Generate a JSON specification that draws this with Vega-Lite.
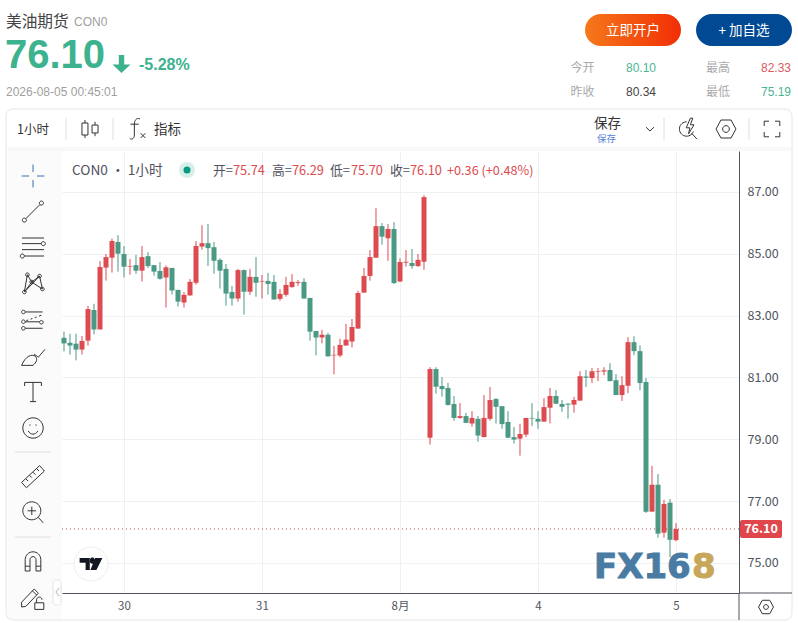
{
  "$schema": "https://vega.github.io/schema/vega-lite/v6.json",
  "width": 677,
  "height": 442,
  "autosize": "none",
  "padding": {"left": 62, "top": 151, "right": 59, "bottom": 30},
  "background": "#ffffff",
  "config": {
    "view": {"stroke": null},
    "text": {"font": "Noto Sans CJK SC", "baseline": "middle", "align": "left", "fontSize": 12, "color": "#333333"},
    "point": {"filled": false, "stroke": "#333333", "strokeWidth": 1, "opacity": 1, "size": 576},
    "rule": {"stroke": "#e0e0e0"}
  },
  "datasets": {
    "one": [{"a": 1}],
    "bars": [
      {"i": 0, "open": 82.28, "high": 82.48, "low": 81.84, "close": 82.10},
      {"i": 1, "open": 82.12, "high": 82.41, "low": 81.74, "close": 82.03},
      {"i": 2, "open": 82.09, "high": 82.41, "low": 81.55, "close": 81.90},
      {"i": 3, "open": 81.90, "high": 82.34, "low": 81.74, "close": 82.18},
      {"i": 4, "open": 82.19, "high": 83.31, "low": 82.03, "close": 83.21},
      {"i": 5, "open": 83.18, "high": 83.38, "low": 82.39, "close": 82.55},
      {"i": 6, "open": 82.55, "high": 84.76, "low": 82.55, "close": 84.57},
      {"i": 7, "open": 84.55, "high": 84.99, "low": 84.13, "close": 84.89},
      {"i": 8, "open": 84.87, "high": 85.49, "low": 84.39, "close": 85.41},
      {"i": 9, "open": 85.38, "high": 85.60, "low": 84.42, "close": 85.00},
      {"i": 10, "open": 84.99, "high": 85.25, "low": 84.23, "close": 84.58},
      {"i": 11, "open": 84.58, "high": 84.83, "low": 84.32, "close": 84.60},
      {"i": 12, "open": 84.63, "high": 84.96, "low": 84.35, "close": 84.45},
      {"i": 13, "open": 84.45, "high": 85.25, "low": 84.10, "close": 84.89},
      {"i": 14, "open": 84.92, "high": 85.05, "low": 84.54, "close": 84.60},
      {"i": 15, "open": 84.63, "high": 84.63, "low": 84.29, "close": 84.42},
      {"i": 16, "open": 84.44, "high": 84.73, "low": 84.16, "close": 84.19},
      {"i": 17, "open": 84.23, "high": 84.62, "low": 83.26, "close": 84.56},
      {"i": 18, "open": 84.54, "high": 84.54, "low": 83.68, "close": 83.81},
      {"i": 19, "open": 83.83, "high": 83.83, "low": 83.29, "close": 83.45},
      {"i": 20, "open": 83.42, "high": 83.76, "low": 83.26, "close": 83.67},
      {"i": 21, "open": 83.65, "high": 84.18, "low": 83.65, "close": 84.09},
      {"i": 22, "open": 84.06, "high": 85.41, "low": 84.00, "close": 85.25},
      {"i": 23, "open": 85.23, "high": 85.92, "low": 85.13, "close": 85.34},
      {"i": 24, "open": 85.34, "high": 85.96, "low": 84.60, "close": 85.18},
      {"i": 25, "open": 85.21, "high": 85.38, "low": 84.35, "close": 84.77},
      {"i": 26, "open": 84.80, "high": 84.85, "low": 83.87, "close": 84.45},
      {"i": 27, "open": 84.51, "high": 84.67, "low": 83.32, "close": 83.71},
      {"i": 28, "open": 83.76, "high": 83.96, "low": 83.32, "close": 83.55},
      {"i": 29, "open": 83.55, "high": 84.51, "low": 83.45, "close": 84.47},
      {"i": 30, "open": 84.47, "high": 84.49, "low": 83.03, "close": 83.77},
      {"i": 31, "open": 83.77, "high": 84.51, "low": 83.67, "close": 84.25},
      {"i": 32, "open": 84.25, "high": 84.89, "low": 83.61, "close": 84.06},
      {"i": 33, "open": 84.10, "high": 84.31, "low": 83.55, "close": 84.12},
      {"i": 34, "open": 84.12, "high": 84.38, "low": 83.68, "close": 84.02},
      {"i": 35, "open": 84.09, "high": 84.31, "low": 83.52, "close": 83.52},
      {"i": 36, "open": 83.54, "high": 83.86, "low": 83.48, "close": 83.70},
      {"i": 37, "open": 83.67, "high": 84.25, "low": 83.61, "close": 83.99},
      {"i": 38, "open": 83.92, "high": 84.34, "low": 83.90, "close": 84.09},
      {"i": 39, "open": 84.05, "high": 84.15, "low": 83.96, "close": 84.08},
      {"i": 40, "open": 84.09, "high": 84.21, "low": 83.55, "close": 83.55},
      {"i": 41, "open": 83.57, "high": 83.57, "low": 82.19, "close": 82.48},
      {"i": 42, "open": 82.50, "high": 82.50, "low": 81.71, "close": 82.29},
      {"i": 43, "open": 82.29, "high": 82.54, "low": 82.10, "close": 82.38},
      {"i": 44, "open": 82.38, "high": 82.44, "low": 81.68, "close": 81.68},
      {"i": 45, "open": 81.71, "high": 82.02, "low": 81.10, "close": 81.73},
      {"i": 46, "open": 81.71, "high": 82.25, "low": 81.65, "close": 82.05},
      {"i": 47, "open": 82.03, "high": 82.73, "low": 82.03, "close": 82.22},
      {"i": 48, "open": 82.16, "high": 82.89, "low": 81.97, "close": 82.63},
      {"i": 49, "open": 82.58, "high": 83.80, "low": 82.57, "close": 83.73},
      {"i": 50, "open": 83.74, "high": 84.54, "low": 83.74, "close": 84.28},
      {"i": 51, "open": 84.28, "high": 85.12, "low": 84.13, "close": 84.89},
      {"i": 52, "open": 84.87, "high": 86.47, "low": 84.87, "close": 85.89},
      {"i": 53, "open": 85.89, "high": 85.99, "low": 85.29, "close": 85.55},
      {"i": 54, "open": 85.50, "high": 85.96, "low": 84.77, "close": 85.80},
      {"i": 55, "open": 85.80, "high": 86.02, "low": 84.02, "close": 84.05},
      {"i": 56, "open": 84.10, "high": 84.85, "low": 84.09, "close": 84.73},
      {"i": 57, "open": 84.71, "high": 85.12, "low": 84.58, "close": 84.74},
      {"i": 58, "open": 84.70, "high": 85.15, "low": 84.51, "close": 84.60},
      {"i": 59, "open": 84.60, "high": 84.99, "low": 84.57, "close": 84.80},
      {"i": 60, "open": 84.74, "high": 86.89, "low": 84.48, "close": 86.83},
      {"i": 61, "open": 79.05, "high": 81.33, "low": 78.83, "close": 81.27},
      {"i": 62, "open": 81.27, "high": 81.33, "low": 80.47, "close": 80.70},
      {"i": 63, "open": 80.72, "high": 81.01, "low": 80.38, "close": 80.62},
      {"i": 64, "open": 80.66, "high": 80.82, "low": 80.09, "close": 80.11},
      {"i": 65, "open": 80.14, "high": 80.40, "low": 79.60, "close": 79.69},
      {"i": 66, "open": 79.69, "high": 80.17, "low": 79.66, "close": 79.75},
      {"i": 67, "open": 79.75, "high": 79.85, "low": 79.53, "close": 79.53},
      {"i": 68, "open": 79.51, "high": 79.91, "low": 79.41, "close": 79.69},
      {"i": 69, "open": 79.66, "high": 79.75, "low": 78.92, "close": 79.12},
      {"i": 70, "open": 79.07, "high": 80.43, "low": 79.07, "close": 79.69},
      {"i": 71, "open": 79.66, "high": 80.69, "low": 79.60, "close": 80.27},
      {"i": 72, "open": 80.30, "high": 80.33, "low": 79.51, "close": 80.05},
      {"i": 73, "open": 80.07, "high": 80.07, "low": 79.34, "close": 79.49},
      {"i": 74, "open": 79.56, "high": 79.91, "low": 79.05, "close": 79.05},
      {"i": 75, "open": 79.07, "high": 79.40, "low": 78.86, "close": 78.99},
      {"i": 76, "open": 79.02, "high": 79.50, "low": 78.47, "close": 79.17},
      {"i": 77, "open": 79.15, "high": 79.69, "low": 79.07, "close": 79.69},
      {"i": 78, "open": 79.69, "high": 80.17, "low": 79.43, "close": 79.67},
      {"i": 79, "open": 79.66, "high": 79.91, "low": 79.34, "close": 79.57},
      {"i": 80, "open": 79.57, "high": 80.33, "low": 79.57, "close": 80.04},
      {"i": 81, "open": 80.02, "high": 80.66, "low": 79.51, "close": 80.40},
      {"i": 82, "open": 80.40, "high": 80.59, "low": 80.14, "close": 80.15},
      {"i": 83, "open": 80.14, "high": 80.27, "low": 79.89, "close": 80.05},
      {"i": 84, "open": 80.15, "high": 80.17, "low": 79.67, "close": 80.12},
      {"i": 85, "open": 80.12, "high": 80.37, "low": 79.86, "close": 80.27},
      {"i": 86, "open": 80.25, "high": 81.20, "low": 80.25, "close": 81.04},
      {"i": 87, "open": 81.03, "high": 81.24, "low": 80.69, "close": 80.99},
      {"i": 88, "open": 80.98, "high": 81.30, "low": 80.82, "close": 81.20},
      {"i": 89, "open": 81.18, "high": 81.30, "low": 80.88, "close": 81.20},
      {"i": 90, "open": 81.19, "high": 81.33, "low": 81.07, "close": 81.23},
      {"i": 91, "open": 81.24, "high": 81.46, "low": 80.88, "close": 80.88},
      {"i": 92, "open": 80.91, "high": 81.11, "low": 80.43, "close": 80.43},
      {"i": 93, "open": 80.43, "high": 81.04, "low": 80.24, "close": 80.75},
      {"i": 94, "open": 80.73, "high": 82.30, "low": 80.49, "close": 82.14},
      {"i": 95, "open": 82.14, "high": 82.33, "low": 81.72, "close": 81.85},
      {"i": 96, "open": 81.85, "high": 82.04, "low": 80.59, "close": 80.82},
      {"i": 97, "open": 80.85, "high": 80.98, "low": 76.62, "close": 76.66},
      {"i": 98, "open": 76.66, "high": 78.14, "low": 76.66, "close": 77.53},
      {"i": 99, "open": 77.53, "high": 77.88, "low": 75.82, "close": 75.95},
      {"i": 100, "open": 75.98, "high": 77.04, "low": 75.82, "close": 76.91},
      {"i": 101, "open": 76.95, "high": 77.07, "low": 75.19, "close": 75.75},
      {"i": 102, "open": 75.74, "high": 76.29, "low": 75.70, "close": 76.10}
    ]
  },
  "data": {"name": "one"},
  "layer": [
    {"mark": {"type": "rect", "fill": "#fbfbfb"}, "encoding": {"x": {"value": -55}, "x2": {"value": 0}, "y": {"value": -4}, "y2": {"value": 469}}},
    {"mark": {"type": "rect", "fill": "#f8f8f8"}, "encoding": {"x": {"value": -55}, "x2": {"value": 729}, "y": {"value": -4}, "y2": {"value": 0}}},
    {"mark": {"type": "rect", "fill": null, "stroke": "#e6e6e6", "cornerRadius": 7}, "encoding": {"x": {"value": -56}, "x2": {"value": 730}, "y": {"value": -42}, "y2": {"value": 469}}},

    {
      "data": {"name": "bars"},
      "mark": {"type": "rule", "strokeWidth": 1},
      "encoding": {
        "x": {
          "field": "i",
          "type": "quantitative",
          "scale": {"domain": [-0.333, 112.5], "nice": false, "zero": false, "padding": 0},
          "title": null,
          "axis": {
            "values": [10, 33, 56, 79, 102],
            "labelExpr": "{'10': '30', '33': '31', '56': '8月', '79': '4', '102': '5'}[datum.value]",
            "grid": true,
            "gridColor": "#f0f0f3",
            "ticks": false,
            "domainColor": "#50535e",
            "labelColor": "#50535e",
            "labelFont": "Noto Sans CJK SC",
            "labelFontSize": 11.5,
            "labelPadding": 7
          }
        },
        "y": {
          "field": "low",
          "type": "quantitative",
          "scale": {"domain": [74.03, 88.32], "nice": false, "zero": false},
          "title": null,
          "axis": {
            "orient": "right",
            "values": [75, 76, 77, 78, 79, 80, 81, 82, 83, 84, 85, 86, 87, 88],
            "format": ".2f",
            "grid": true,
            "gridColor": "#f0f0f3",
            "ticks": false,
            "domainColor": "#50535e",
            "labelColor": "#50535e",
            "labelFont": "Noto Sans CJK SC",
            "labelFontSize": 12.5,
            "labelPadding": 8,
            "labelOverlap": false
          }
        },
        "y2": {"field": "high"},
        "color": {"condition": {"test": "datum.close >= datum.open", "value": "#dd4b50"}, "value": "#4a9985"}
      }
    },
    {
      "data": {"name": "bars"},
      "mark": {"type": "bar", "size": 5},
      "encoding": {
        "x": {"field": "i", "type": "quantitative"},
        "y": {"field": "open", "type": "quantitative"},
        "y2": {"field": "close"},
        "color": {"condition": {"test": "datum.close >= datum.open", "value": "#dd4b50"}, "value": "#4a9985"}
      }
    },

    {"mark": {"type": "rule", "stroke": "#b5474b", "strokeDash": [1, 3]}, "encoding": {"y": {"datum": 76.10}}},
    {"mark": {"type": "rect", "fill": "#e0474c", "cornerRadius": 2}, "encoding": {"x": {"value": 678}, "x2": {"value": 720}, "y": {"value": 369}, "y2": {"value": 387}}},
    {"mark": {"type": "text", "text": "76.10", "color": "#ffffff", "fontWeight": "bold", "align": "center", "x": 699, "fontSize": 12.5}, "encoding": {"y": {"datum": 76.10}}},
    {"mark": {"type": "rule", "stroke": "#50535e"}, "encoding": {"x": {"value": 677}, "y": {"value": 442}, "y2": {"value": 469}}},
    {"mark": {"type": "rule", "stroke": "#50535e"}, "encoding": {"x": {"value": 677}, "x2": {"value": 730}, "y": {"value": 442}}},

    {"mark": {"type": "text", "text": "美油期货", "x": -56, "y": -129, "fontSize": 15.7, "color": "#444444"}},
    {"mark": {"type": "text", "text": "CON0", "x": 12, "y": -129, "font": "Liberation Sans", "color": "#a0a0a0"}},
    {"mark": {"type": "text", "text": "76.10", "x": -57, "y": -95, "font": "Liberation Sans", "fontWeight": "bold", "fontSize": 40, "color": "#3db28f"}},
    {"mark": {"type": "point", "shape": "M-.3 -1H.3V.05H1L0 1L-1 .05H-.3Z", "filled": true, "fill": "#3db28f", "stroke": null, "size": 324, "x": 59.5, "y": -87}},
    {"mark": {"type": "text", "text": "-5.28%", "x": 77, "y": -86, "font": "Liberation Sans", "fontWeight": "bold", "fontSize": 16, "color": "#3db28f"}},
    {"mark": {"type": "text", "text": "2026-08-05 00:45:01", "x": -56, "y": -59.5, "font": "Liberation Sans", "color": "#a0a0a0"}},

    {"mark": {"type": "rect", "cornerRadius": 16, "fill": {"gradient": "linear", "x1": 0, "x2": 1, "y1": 0, "y2": 0, "stops": [{"offset": 0, "color": "#f5781a"}, {"offset": 1, "color": "#f22e05"}]}}, "encoding": {"x": {"value": 523}, "x2": {"value": 619}, "y": {"value": -137}, "y2": {"value": -105}}},
    {"mark": {"type": "rect", "cornerRadius": 16, "fill": "#004a94"}, "encoding": {"x": {"value": 634}, "x2": {"value": 730}, "y": {"value": -137}, "y2": {"value": -105}}},
    {"mark": {"type": "text", "text": "立即开户", "x": 571, "y": -120.5, "align": "center", "fontSize": 13.5, "color": "#ffffff"}},
    {"mark": {"type": "text", "text": "+ 加自选", "x": 682, "y": -120.5, "align": "center", "fontSize": 13.5, "color": "#ffffff"}},
    {"mark": {"type": "text", "text": "今开", "x": 508.5, "y": -83, "color": "#aaaaaa"}},
    {"mark": {"type": "text", "text": "80.10", "x": 564, "y": -83.5, "font": "Liberation Sans", "color": "#4ab591"}},
    {"mark": {"type": "text", "text": "最高", "x": 644, "y": -83, "color": "#aaaaaa"}},
    {"mark": {"type": "text", "text": "82.33", "x": 699, "y": -83.5, "font": "Liberation Sans", "color": "#dd5a5e"}},
    {"mark": {"type": "text", "text": "昨收", "x": 508.5, "y": -59, "color": "#aaaaaa"}},
    {"mark": {"type": "text", "text": "80.34", "x": 564, "y": -59.5, "font": "Liberation Sans", "color": "#444444"}},
    {"mark": {"type": "text", "text": "最低", "x": 644, "y": -59, "color": "#aaaaaa"}},
    {"mark": {"type": "text", "text": "75.19", "x": 699, "y": -59.5, "font": "Liberation Sans", "color": "#4ab591"}},

    {"mark": {"type": "text", "text": "1小时", "x": -45, "y": -21, "fontSize": 12.5}},
    {"mark": {"type": "rule"}, "encoding": {"x": {"value": 4}, "y": {"value": -33}, "y2": {"value": -11}}},
    {"mark": {"type": "point", "shape": "M-.67 -.5H-.17V.5H-.67ZM-.42 -.75V-.5M-.42 .5V.75M.17 -.33H.67V.33H.17ZM.42 -.6V-.33M.42 .33V.6", "x": 28, "y": -22}},
    {"mark": {"type": "rule"}, "encoding": {"x": {"value": 51}, "y": {"value": -33}, "y2": {"value": -11}}},
    {"mark": {"type": "point", "shape": "M.25 -.85C-.1 -.95 -.2 -.7 -.22 -.4V.5C-.24 .8 -.4 .9 -.6 .8M-.55 -.4H.15M.3 .35L.7 .75M.7 .35L.3 .75", "x": 75, "y": -22}},
    {"mark": {"type": "text", "text": "指标", "x": 92, "y": -21, "fontSize": 13.5}},
    {"mark": {"type": "text", "text": "保存", "x": 532, "y": -27, "fontSize": 13.5}},
    {"mark": {"type": "text", "text": "保存", "x": 535, "y": -12, "fontSize": 9.5, "color": "#5b7fdb"}},
    {"mark": {"type": "point", "shape": "M-.33 -.15L0 .17L.33 -.15", "x": 588, "y": -22}},
    {"mark": {"type": "rule"}, "encoding": {"x": {"value": 602}, "y": {"value": -33}, "y2": {"value": -11}}},
    {"mark": {"type": "point", "shape": "M-.1 -.6A.6 .6 0 1 0 .45 .2M.2 -.9L-.15 -.1H.15L.05 .4L.5 -.35H.2L.4 -.9ZM.3 .35L.75 .85", "x": 626, "y": -22}},
    {"mark": {"type": "point", "shape": "M-.83 0L-.42 -.75H.42L.83 0L.42 .75H-.42ZM.28 0A.28 .28 0 1 1 -.28 0A.28 .28 0 1 1 .28 0", "x": 664, "y": -22}},
    {"mark": {"type": "rule"}, "encoding": {"x": {"value": 687}, "y": {"value": -33}, "y2": {"value": -11}}},
    {"mark": {"type": "point", "shape": "M-.65 -.25V-.65H-.25M.25 -.65H.65V-.25M.65 .25V.65H.25M-.25 .65H-.65V.25", "x": 710, "y": -22}},

    {"mark": {"type": "point", "shape": "M-.95 0H-.33M.33 0H.95M0 -.95V-.33M0 .33V.95", "stroke": "#3b6fb8", "x": -29, "y": 25}},
    {"mark": {"type": "point", "shape": "M-.6 .6L.58 -.58M-.89 .72A.17 .17 0 1 0 -.55 .72A.17 .17 0 1 0 -.89 .72M.53 -.7A.17 .17 0 1 0 .87 -.7A.17 .17 0 1 0 .53 -.7", "x": -29, "y": 60.5}},
    {"mark": {"type": "point", "shape": "M-.92 -.75H.92M-.92 -.28H.69M-.92 .22H.92M-.72 .75H.92M.69 -.28A.17 .17 0 1 0 1.03 -.28A.17 .17 0 1 0 .69 -.28M-1.06 .75A.17 .17 0 1 0 -.72 .75A.17 .17 0 1 0 -1.06 .75", "x": -29, "y": 96}},
    {"mark": {"type": "point", "shape": "M-.47 -.69L-.72 .75L-.11 -.08ZM-.11 -.08L.55 -.58L.78 .5ZM.55 -.58L-.72 .75M-.62 -.69A.15 .15 0 1 0 -.32 -.69A.15 .15 0 1 0 -.62 -.69M.4 -.58A.15 .15 0 1 0 .7 -.58A.15 .15 0 1 0 .4 -.58M-.26 -.08A.15 .15 0 1 0 .04 -.08A.15 .15 0 1 0 -.26 -.08M-.87 .75A.15 .15 0 1 0 -.57 .75A.15 .15 0 1 0 -.87 .75M.63 .5A.15 .15 0 1 0 .93 .5A.15 .15 0 1 0 .63 .5", "x": -29, "y": 132}},
    {"mark": {"type": "point", "shape": "M-.65 -.67H.8M-.65 .15H.55M-.65 .69H.8M-.55 .05L-.4 0M-.2 -.07L-.05 -.12M.15 -.2L.3 -.25M.5 -.32L.7 -.4M-.95 -.67A.15 .15 0 1 0 -.65 -.67A.15 .15 0 1 0 -.95 -.67M-.95 .14A.15 .15 0 1 0 -.65 .14A.15 .15 0 1 0 -.95 .14M.55 .19A.15 .15 0 1 0 .85 .19A.15 .15 0 1 0 .55 .19M-.95 .69A.15 .15 0 1 0 -.65 .69A.15 .15 0 1 0 -.95 .69", "x": -29, "y": 169}},
    {"mark": {"type": "point", "shape": "M-.95 .78H0C.3 .5 .4 .3 .2 0C-.1 -.15 -.6 -.05 -.95 .78M.1 -.15C.25 -.05 .4 .05 .45 .1C.55 -.05 .75 -.25 1 -.55", "x": -29, "y": 205}},
    {"mark": {"type": "point", "shape": "M-.7 -.5V-.8H.7V-.5M0 -.8V.8M-.25 .8H.25", "x": -29, "y": 241}},
    {"mark": {"type": "point", "shape": "M.85 0A.85 .85 0 1 1 -.85 0A.85 .85 0 1 1 .85 0M-.4 .25C-.2 .6 .2 .6 .4 .25M-.3 -.25H-.2M.2 -.25H.3", "x": -29, "y": 277}},
    {"mark": {"type": "rule"}, "encoding": {"x": {"value": -47}, "x2": {"value": -11}, "y": {"value": 301}}},
    {"mark": {"type": "point", "shape": "M-.95 .45L.55 -.95L.95 -.5L-.55 .9ZM-.6 .15L-.4 .35M-.3 -.15L-.1 .05M0 -.4L.2 -.2M.3 -.7L.5 -.5", "x": -29, "y": 326}},
    {"mark": {"type": "point", "shape": "M.65 -.1A.75 .75 0 1 1 -.85 -.1A.75 .75 0 1 1 .65 -.1M-.1 -.45V.25M-.45 -.1H.25M.45 .45L.85 .9", "x": -29, "y": 361}},
    {"mark": {"type": "rule"}, "encoding": {"x": {"value": -47}, "x2": {"value": -11}, "y": {"value": 386}}},
    {"mark": {"type": "point", "shape": "M-.65 .75V-.2A.65 .65 0 0 1 .65 -.2V.75H.25V-.2A.25 .25 0 0 0 -.25 -.2V.75ZM-.65 .35H-.25M.25 .35H.65", "x": -29, "y": 411}},
    {"mark": {"type": "point", "shape": "M-.95 .35L.1 -.75L.45 -.4L-.6 .7L-.95 .75ZM-.05 -.6L.3 -.25M.15 .4H.9V.95H.15ZM.3 .4V.15A.22 .22 0 0 1 .75 .15", "x": -29, "y": 447}},
    {"mark": {"type": "rect", "fill": "#ffffff", "stroke": "#e4e4e4", "cornerRadius": 3}, "encoding": {"x": {"value": -9}, "x2": {"value": -1}, "y": {"value": 429}, "y2": {"value": 454}}},
    {"mark": {"type": "point", "shape": "M.2 -.35L-.1 0L.2 .35", "stroke": "#b0b0b0", "x": -5, "y": 441}},

    {"mark": {"type": "text", "text": "CON0 · 1小时", "x": 10, "y": 20, "fontSize": 13.7, "color": "#50535e"}},
    {"mark": {"type": "point", "shape": "circle", "filled": true, "fill": "#d6efe9", "stroke": null, "size": 256, "x": 125, "y": 19}},
    {"mark": {"type": "point", "shape": "circle", "filled": true, "fill": "#089981", "stroke": null, "size": 49, "x": 125, "y": 19}},
    {"mark": {"type": "text", "text": "开=", "x": 151, "y": 20, "fontSize": 12.8, "color": "#50535e"}},
    {"mark": {"type": "text", "text": "75.74", "x": 171, "y": 20, "fontSize": 12.8, "color": "#dd4b50"}},
    {"mark": {"type": "text", "text": "高=", "x": 210, "y": 20, "fontSize": 12.8, "color": "#50535e"}},
    {"mark": {"type": "text", "text": "76.29", "x": 230, "y": 20, "fontSize": 12.8, "color": "#dd4b50"}},
    {"mark": {"type": "text", "text": "低=", "x": 268, "y": 20, "fontSize": 12.8, "color": "#50535e"}},
    {"mark": {"type": "text", "text": "75.70", "x": 289, "y": 20, "fontSize": 12.8, "color": "#dd4b50"}},
    {"mark": {"type": "text", "text": "收=", "x": 328, "y": 20, "fontSize": 12.8, "color": "#50535e"}},
    {"mark": {"type": "text", "text": "76.10", "x": 348, "y": 20, "fontSize": 12.8, "color": "#dd4b50"}},
    {"mark": {"type": "text", "text": "+0.36 (+0.48%)", "x": 385, "y": 20, "fontSize": 12.7, "color": "#dd4b50"}},

    {"mark": {"type": "point", "shape": "circle", "filled": true, "fill": "#ffffff", "stroke": "#eeeeee", "size": 1156, "x": 29, "y": 413}},
    {"mark": {"type": "point", "shape": "M-.95 -.5H-.1V.5H-.45V-.1H-.95ZM.35 -.5H.95L.45 .5H-.05ZM.3 -.28A.2 .2 0 1 1 -.08 -.28A.2 .2 0 1 1 .3 -.28", "filled": true, "fill": "#131722", "stroke": null, "x": 29, "y": 413}},
    {"mark": {"type": "text", "text": "FX16", "x": 532, "y": 417, "font": "DejaVu Sans", "fontWeight": "bold", "fontSize": 34, "color": "#4a7ca3", "stroke": "#4a7ca3", "strokeWidth": 1}},
    {"mark": {"type": "text", "text": "8", "x": 630, "y": 417, "font": "DejaVu Sans", "fontWeight": "bold", "fontSize": 34, "color": "#c9a75a", "stroke": "#c9a75a", "strokeWidth": 1}},
    {"mark": {"type": "point", "shape": "M-.62 0L-.31 -.56H.31L.62 0L.31 .56H-.31ZM.2 0A.2 .2 0 1 1 -.2 0A.2 .2 0 1 1 .2 0", "x": 704, "y": 456}}
  ]
}
